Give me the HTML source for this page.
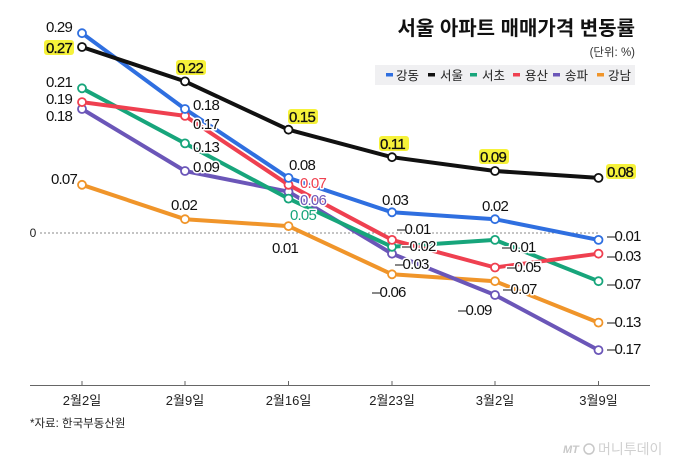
<!DOCTYPE html>
<html><head><meta charset="utf-8"><style>
html,body{margin:0;padding:0;background:#fff;}
svg{display:block;}
text{font-family:"Liberation Sans","Noto Sans CJK KR",sans-serif;}
.n{font-size:15px;fill:#111;letter-spacing:-0.8px;stroke:#fff;stroke-width:3px;paint-order:stroke;stroke-linejoin:round;}
.hl{font-size:15px;fill:#111;letter-spacing:-0.8px;stroke:#111;stroke-width:0.3px;}
.ax{font-size:13px;fill:#222;}
</style></head><body>
<svg width="680" height="462" viewBox="0 0 680 462" xmlns="http://www.w3.org/2000/svg">
<rect width="680" height="462" fill="#fff"/>
<!-- title -->
<text x="635" y="35" text-anchor="end" style="font-size:20px;font-weight:bold;fill:#111;">서울 아파트 매매가격 변동률</text>
<text x="635" y="56" text-anchor="end" style="font-size:11.5px;fill:#333;">(단위: %)</text>
<!-- legend -->
<rect x="375" y="65" width="260" height="20" fill="#f0f0f2"/>
<g style="font-size:12.5px;fill:#222;">
<rect x="386" y="73" width="7" height="3.5" fill="#2f6fe0"/><text x="396" y="80">강동</text>
<rect x="428" y="73" width="7" height="3.5" fill="#111"/><text x="440" y="80">서울</text>
<rect x="470" y="73" width="7" height="3.5" fill="#17a57b"/><text x="482" y="80">서초</text>
<rect x="513" y="73" width="7" height="3.5" fill="#ef4050"/><text x="525" y="80">용산</text>
<rect x="553" y="73" width="7" height="3.5" fill="#6b56b8"/><text x="565" y="80">송파</text>
<rect x="597" y="73" width="7" height="3.5" fill="#f0952a"/><text x="608" y="80">강남</text>
</g>
<!-- zero line -->
<line x1="40" y1="233" x2="598" y2="233" stroke="#888" stroke-width="1" stroke-dasharray="2,2"/>
<text x="33" y="237" text-anchor="middle" style="font-size:12px;fill:#222;">0</text>
<!-- x axis -->
<line x1="30" y1="385.5" x2="650" y2="385.5" stroke="#666" stroke-width="1"/>
<g stroke="#666" stroke-width="1">
<line x1="82" y1="381" x2="82" y2="385"/><line x1="185" y1="381" x2="185" y2="385"/><line x1="288.5" y1="381" x2="288.5" y2="385"/>
<line x1="392" y1="381" x2="392" y2="385"/><line x1="495" y1="381" x2="495" y2="385"/><line x1="598.5" y1="381" x2="598.5" y2="385"/>
</g>
<g class="ax" text-anchor="middle">
<text x="82" y="405">2월2일</text><text x="185" y="405">2월9일</text><text x="288.5" y="405">2월16일</text>
<text x="392" y="405">2월23일</text><text x="495" y="405">3월2일</text><text x="598.5" y="405">3월9일</text>
</g>
<text x="30" y="427" style="font-size:11.5px;fill:#222;">*자료: 한국부동산원</text>
<!-- watermark -->
<text x="563" y="453" style="font-size:11px;font-style:italic;fill:#c8c8c8;font-weight:bold;">MT</text>
<circle cx="589" cy="449" r="5" fill="none" stroke="#c8c8c8" stroke-width="1.5"/>
<text x="598" y="454" style="font-size:14px;fill:#d0d0d0;">머니투데이</text>
<!-- series -->
<g fill="none" stroke-width="4" stroke-linejoin="round" stroke-linecap="round">
<polyline stroke="#f0952a" points="82,184.8 185,219.2 288.5,226.1 392,274.3 495,281.2 598.5,322.6"/>
<polyline stroke="#6b56b8" points="82,109 185,171 288.5,191.7 392,253.7 495,295 598.5,350.1"/>
<polyline stroke="#17a57b" points="82,88.3 185,143.4 288.5,198.6 392,246.8 495,239.9 598.5,281.2"/>
<polyline stroke="#ef4050" points="82,102.1 185,115.9 288.5,184.8 392,239.9 495,267.5 598.5,253.7"/>
<polyline stroke="#2f6fe0" points="82,33.2 185,109 288.5,177.9 392,212.3 495,219.2 598.5,239.9"/>
<polyline stroke="#111" points="82,47 185,81.4 288.5,129.7 392,157.2 495,171 598.5,177.9"/>
</g>
<g fill="#fff" stroke-width="1.8">
<g stroke="#f0952a"><circle cx="82" cy="184.8" r="4"/><circle cx="185" cy="219.2" r="4"/><circle cx="288.5" cy="226.1" r="4"/><circle cx="392" cy="274.3" r="4"/><circle cx="495" cy="281.2" r="4"/><circle cx="598.5" cy="322.6" r="4"/></g>
<g stroke="#6b56b8"><circle cx="82" cy="109" r="4"/><circle cx="185" cy="171" r="4"/><circle cx="288.5" cy="191.7" r="4"/><circle cx="392" cy="253.7" r="4"/><circle cx="495" cy="295" r="4"/><circle cx="598.5" cy="350.1" r="4"/></g>
<g stroke="#17a57b"><circle cx="82" cy="88.3" r="4"/><circle cx="185" cy="143.4" r="4"/><circle cx="288.5" cy="198.6" r="4"/><circle cx="392" cy="246.8" r="4"/><circle cx="495" cy="239.9" r="4"/><circle cx="598.5" cy="281.2" r="4"/></g>
<g stroke="#ef4050"><circle cx="82" cy="102.1" r="4"/><circle cx="185" cy="115.9" r="4"/><circle cx="288.5" cy="184.8" r="4"/><circle cx="392" cy="239.9" r="4"/><circle cx="495" cy="267.5" r="4"/><circle cx="598.5" cy="253.7" r="4"/></g>
<g stroke="#2f6fe0"><circle cx="82" cy="33.2" r="4"/><circle cx="185" cy="109" r="4"/><circle cx="288.5" cy="177.9" r="4"/><circle cx="392" cy="212.3" r="4"/><circle cx="495" cy="219.2" r="4"/><circle cx="598.5" cy="239.9" r="4"/></g>
<g stroke="#111"><circle cx="82" cy="47" r="4"/><circle cx="185" cy="81.4" r="4"/><circle cx="288.5" cy="129.7" r="4"/><circle cx="392" cy="157.2" r="4"/><circle cx="495" cy="171" r="4"/><circle cx="598.5" cy="177.9" r="4"/></g>
</g>
<!-- highlights -->
<g fill="#f6f23a">
<rect x="44" y="40" width="30" height="15" rx="3"/>
<rect x="176" y="60" width="30" height="15" rx="3"/>
<rect x="288" y="109" width="30" height="15" rx="3"/>
<rect x="379" y="136" width="30" height="15" rx="3"/>
<rect x="479" y="149" width="30" height="15" rx="3"/>
<rect x="606" y="164" width="30" height="15" rx="3"/>
</g>
<g class="hl">
<text x="72" y="53" text-anchor="end">0.27</text>
<text x="177" y="73">0.22</text>
<text x="289" y="122">0.15</text>
<text x="380" y="149">0.11</text>
<text x="480" y="162">0.09</text>
<text x="607" y="177">0.08</text>
</g>
<!-- labels -->
<g class="n">
<text x="72" y="32" text-anchor="end">0.29</text>
<text x="72" y="87" text-anchor="end">0.21</text>
<text x="72" y="104" text-anchor="end">0.19</text>
<text x="72" y="121" text-anchor="end">0.18</text>
<text x="77" y="184" text-anchor="end">0.07</text>
<text x="193" y="110">0.18</text>
<text x="193" y="129">0.17</text>
<text x="193" y="152">0.13</text>
<text x="193" y="172">0.09</text>
<text x="171" y="210">0.02</text>
<text x="289" y="170">0.08</text>
<text x="300" y="188" style="fill:#ef4050">0.07</text>
<text x="300" y="205" style="fill:#6b56b8">0.06</text>
<text x="290" y="220" style="fill:#17a57b">0.05</text>
<text x="272" y="253">0.01</text>
<text x="382" y="205">0.03</text>
<text x="397" y="234">–0.01</text>
<text x="402" y="251">–0.02</text>
<text x="395" y="269">–0.03</text>
<text x="372" y="297">–0.06</text>
<text x="482" y="211">0.02</text>
<text x="502" y="252">–0.01</text>
<text x="507" y="272">–0.05</text>
<text x="503" y="294">–0.07</text>
<text x="458" y="315">–0.09</text>
<text x="607" y="241">–0.01</text>
<text x="607" y="261">–0.03</text>
<text x="607" y="289">–0.07</text>
<text x="607" y="327">–0.13</text>
<text x="607" y="354">–0.17</text>
</g>
</svg>
</body></html>
